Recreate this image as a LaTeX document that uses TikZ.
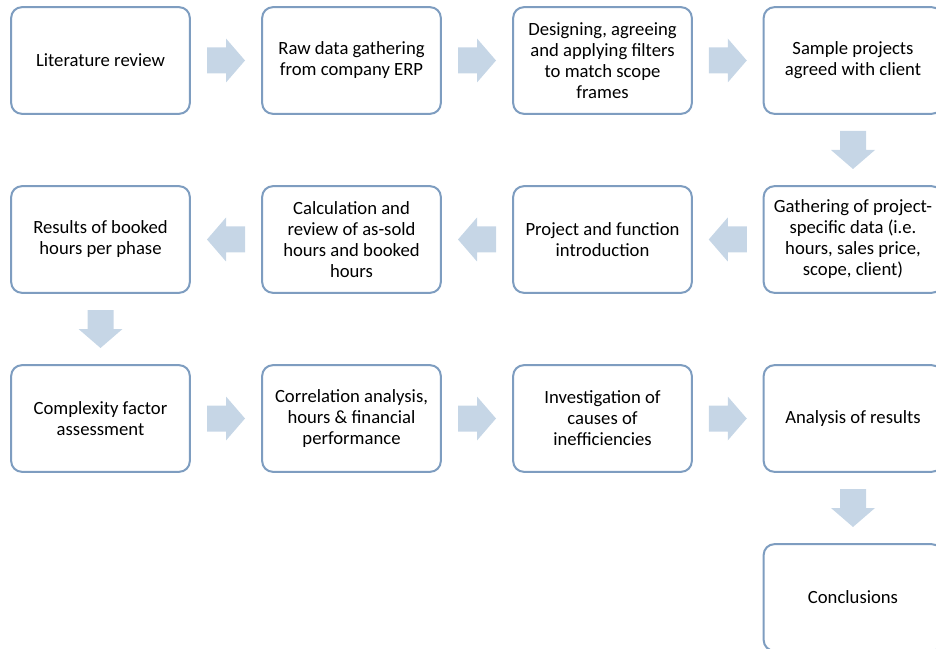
\documentclass[tikz,border=0pt]{standalone}
\usepackage{fontspec}
\setmainfont{Carlito}
\usepackage{tikz}
\usetikzlibrary{calc}

\definecolor{boxline}{HTML}{7E9DC0}
\definecolor{arrowfill}{HTML}{C6D6E6}

\tikzset{
  stepbox/.style={draw=boxline, line width=1.5pt, rounded corners=8pt, fill=white,
    minimum width=134pt, minimum height=80pt, align=center, inner sep=2pt,
    font=\fontsize{14pt}{15.75pt}\selectfont},
  blockarrow/.pic={
    \fill[arrowfill] (-19,-13) -- (0,-13) -- (0,-22) -- (19,0) -- (0,22) -- (0,13) -- (-19,13) -- cycle;
  }
}

\begin{document}
\begin{tikzpicture}[x=0.75pt, y=-0.75pt]
      % Fix the page to the size of the figure
      \clip (0,0) rectangle (936,649);

      % First row, left to right
      \node[stepbox] (lit) at (100.5,60.5) {Literature review};
      \node[stepbox] (raw) at (351.5,60.5) {Raw data gathering\\from company ERP};
      \node[stepbox] (filt) at (602.5,60.5) {Designing, agreeing\\and applying filters\\to match scope\\frames};
      \node[stepbox] (samp) at (853,60.5) {Sample projects\\agreed with client};

      % Second row, right to left
      \node[stepbox] (gath) at (853,239.5) {Gathering of project-\\specific data (i.e.\\hours, sales price,\\scope, client)};
      \node[stepbox] (intro) at (602.5,239.5) {Project and function\\introduction};
      \node[stepbox] (calc) at (351.5,239.5) {Calculation and\\review of as-sold\\hours and booked\\hours};
      \node[stepbox] (res) at (100.5,239.5) {Results of booked\\hours per phase};

      % Third row, left to right
      \node[stepbox] (cplx) at (100.5,418.5) {Complexity factor\\assessment};
      \node[stepbox] (corr) at (351.5,418.5) {Correlation analysis,\\hours \& financial\\performance};
      \node[stepbox] (inv) at (602.5,418.5) {Investigation of\\causes of\\inefficiencies};
      \node[stepbox] (anal) at (853,418.5) {Analysis of results};

      % Last step
      \node[stepbox] (conc) at (853,597.5) {Conclusions};

      % Block arrows between the steps
      \pic at ($(lit.east)!0.5!(raw.west)$) {blockarrow};
      \pic at ($(raw.east)!0.5!(filt.west)$) {blockarrow};
      \pic at ($(filt.east)!0.5!(samp.west)$) {blockarrow};
      \pic[rotate=-90] at ($(samp.south)!0.5!(gath.north)$) {blockarrow};
      \pic[rotate=180] at ($(gath.west)!0.5!(intro.east)$) {blockarrow};
      \pic[rotate=180] at ($(intro.west)!0.5!(calc.east)$) {blockarrow};
      \pic[rotate=180] at ($(calc.west)!0.5!(res.east)$) {blockarrow};
      \pic[rotate=-90] at ($(res.south)!0.5!(cplx.north)$) {blockarrow};
      \pic at ($(cplx.east)!0.5!(corr.west)$) {blockarrow};
      \pic at ($(corr.east)!0.5!(inv.west)$) {blockarrow};
      \pic at ($(inv.east)!0.5!(anal.west)$) {blockarrow};
      \pic[rotate=-90] at ($(anal.south)!0.5!(conc.north)$) {blockarrow};
\end{tikzpicture}
\end{document}
